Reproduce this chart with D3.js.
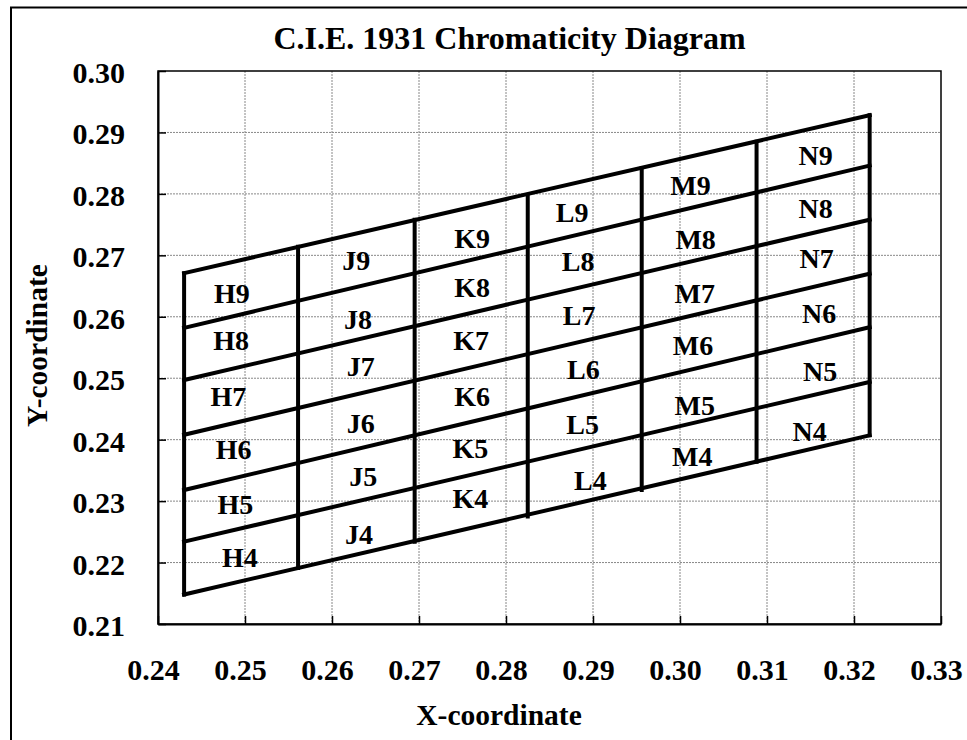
<!DOCTYPE html>
<html>
<head>
<meta charset="utf-8">
<script src="https://cdn.jsdelivr.net/npm/d3@7"></script>
<style>
  body { margin: 0; background: #fff; }
  svg text { font-family: "Liberation Serif", "Times New Roman", serif; font-weight: bold; fill: #000; }
</style>
</head>
<body>
<svg id="chart" width="967" height="740"></svg>
<script>
// axis ticks
const xTicks = [0.24, 0.25, 0.26, 0.27, 0.28, 0.29, 0.30, 0.31, 0.32, 0.33];
const yTicks = [0.21, 0.22, 0.23, 0.24, 0.25, 0.26, 0.27, 0.28, 0.29, 0.30];

// bin grid: column boundaries (x) and where the verticals meet bottom / top edge
const colX       = [0.2430, 0.2561, 0.2695, 0.2825, 0.2956, 0.3088, 0.3218];
const colBottomY = [0.2148, 0.2191, 0.2234, 0.2275, 0.2318, 0.2364, 0.2407];
const colTopY    = [0.2671, 0.2714, 0.2758, 0.2798, 0.2842, 0.2885, 0.2928];

// slanted row boundaries, y at left end (colX[0]) and right end (colX[6])
const rowLeftY  = [0.2148, 0.2234, 0.2318, 0.2408, 0.2497, 0.2582, 0.2671];
const rowRightY = [0.2407, 0.2494, 0.2583, 0.2670, 0.2758, 0.2846, 0.2928];

// bin labels, rows 4..9 within each column
const binCols = ["H", "J", "K", "L", "M", "N"];
const binRows = [4, 5, 6, 7, 8, 9];
const labelX = [
  [0.2494, 0.2489, 0.2487, 0.2481, 0.2484, 0.2485],
  [0.2631, 0.2636, 0.2633, 0.2633, 0.2630, 0.2628],
  [0.2759, 0.2759, 0.2761, 0.2760, 0.2761, 0.2761],
  [0.2897, 0.2888, 0.2889, 0.2884, 0.2883, 0.2876],
  [0.3014, 0.3017, 0.3015, 0.3017, 0.3018, 0.3012],
  [0.3149, 0.3161, 0.3160, 0.3157, 0.3156, 0.3156]
];
const labelY = [
  [0.2209, 0.2294, 0.2384, 0.2471, 0.2562, 0.2638],
  [0.2245, 0.2340, 0.2427, 0.2519, 0.2595, 0.2691],
  [0.2304, 0.2386, 0.2470, 0.2561, 0.2647, 0.2728],
  [0.2333, 0.2425, 0.2515, 0.2602, 0.2690, 0.2769],
  [0.2373, 0.2456, 0.2553, 0.2638, 0.2726, 0.2814],
  [0.2413, 0.2511, 0.2606, 0.2695, 0.2776, 0.2863]
];

const width = 967, height = 740;
const margin = { top: 71, right: 26, bottom: 116, left: 158 };
const innerWidth = width - margin.left - margin.right;
const innerHeight = height - margin.top - margin.bottom;

const svg = d3.select('#chart');

// outer frame, only its left and top edges are inside the picture
svg.append('path')
  .attr('d', `M11,${height} V7.5 H${width}`)
  .attr('fill', 'none').attr('stroke', '#000').attr('stroke-width', 2);

const xScale = d3.scaleLinear().domain([0.24, 0.33]).range([margin.left, margin.left + innerWidth]);
const yScale = d3.scaleLinear().domain([0.21, 0.30]).range([margin.top + innerHeight, margin.top]);

// dotted grid
svg.append('g').attr('class', 'grid')
  .selectAll('line').data(xTicks.slice(1, -1)).join('line')
    .attr('x1', d => xScale(d)).attr('x2', d => xScale(d))
    .attr('y1', margin.top).attr('y2', margin.top + innerHeight)
    .attr('stroke', '#888').attr('stroke-width', 1).attr('stroke-dasharray', '2,1');
svg.append('g').attr('class', 'grid')
  .selectAll('line').data(yTicks.slice(1, -1)).join('line')
    .attr('x1', margin.left).attr('x2', margin.left + innerWidth)
    .attr('y1', d => yScale(d)).attr('y2', d => yScale(d))
    .attr('stroke', '#888').attr('stroke-width', 1).attr('stroke-dasharray', '2,1');

// plot border
svg.append('rect')
  .attr('x', margin.left).attr('y', margin.top)
  .attr('width', innerWidth).attr('height', innerHeight)
  .attr('fill', 'none').attr('stroke', '#000').attr('stroke-width', 1.5);

// axes: ticks point inward, labels drawn below as plain text
const xAxis = d3.axisBottom(xScale).tickValues(xTicks).tickFormat('')
  .tickSizeInner(-8).tickSizeOuter(0);
const yAxis = d3.axisLeft(yScale).tickValues(yTicks).tickFormat('')
  .tickSizeInner(-8).tickSizeOuter(0);

const xAxisG = svg.append('g').attr('class', 'axis x-axis')
  .attr('transform', `translate(0,${margin.top + innerHeight})`).call(xAxis);
const yAxisG = svg.append('g').attr('class', 'axis y-axis')
  .attr('transform', `translate(${margin.left},0)`).call(yAxis);
[xAxisG, yAxisG].forEach(a => {
  a.selectAll('text').remove();
  a.select('.domain').attr('stroke', '#000').attr('stroke-width', 2);
  a.selectAll('.tick line').attr('stroke', '#000').attr('stroke-width', 1.5);
});

const fmt = d3.format('.2f');
svg.append('g').attr('class', 'x-labels')
  .selectAll('text').data(xTicks).join('text')
    .attr('x', d => xScale(d) - 4.5)
    .attr('y', margin.top + innerHeight + 56)
    .attr('text-anchor', 'middle')
    .attr('font-size', 30)
    .text(fmt);
svg.append('g').attr('class', 'y-labels')
  .selectAll('text').data(yTicks).join('text')
    .attr('x', margin.left - 33)
    .attr('y', d => yScale(d) + 12)
    .attr('text-anchor', 'end')
    .attr('font-size', 30)
    .text(fmt);

// bin grid
const mesh = svg.append('g').attr('class', 'mesh')
  .attr('stroke', '#000').attr('stroke-width', 4).attr('stroke-linecap', 'square').attr('fill', 'none');

mesh.selectAll('.row').data(rowLeftY).join('line')
  .attr('class', 'row')
  .attr('x1', xScale(colX[0])).attr('y1', d => yScale(d))
  .attr('x2', xScale(colX[colX.length - 1])).attr('y2', (d, i) => yScale(rowRightY[i]));

mesh.selectAll('.col').data(colX).join('line')
  .attr('class', 'col')
  .attr('x1', d => xScale(d)).attr('y1', (d, i) => yScale(colBottomY[i]))
  .attr('x2', d => xScale(d)).attr('y2', (d, i) => yScale(colTopY[i]));

// bin names
const labels = [];
binCols.forEach((c, ci) => {
  binRows.forEach((r, ri) => {
    labels.push({ name: c + r, x: labelX[ci][ri], y: labelY[ci][ri] });
  });
});
svg.append('g').attr('class', 'bin-labels')
  .selectAll('text').data(labels).join('text')
    .attr('x', d => xScale(d.x))
    .attr('y', d => yScale(d.y))
    .attr('text-anchor', 'middle')
    .attr('dominant-baseline', 'central')
    .attr('font-size', 28)
    .text(d => d.name);

// titles
svg.append('text')
  .attr('x', 509.5).attr('y', 49)
  .attr('text-anchor', 'middle')
  .attr('font-size', 32)
  .text('C.I.E. 1931 Chromaticity Diagram');

svg.append('text')
  .attr('x', 499).attr('y', 725)
  .attr('text-anchor', 'middle')
  .attr('font-size', 29.5)
  .text('X-coordinate');

svg.append('text')
  .attr('transform', 'translate(46.5,345.5) rotate(-90)')
  .attr('text-anchor', 'middle')
  .attr('font-size', 29.5)
  .text('Y-coordinate');
</script>
</body>
</html>
